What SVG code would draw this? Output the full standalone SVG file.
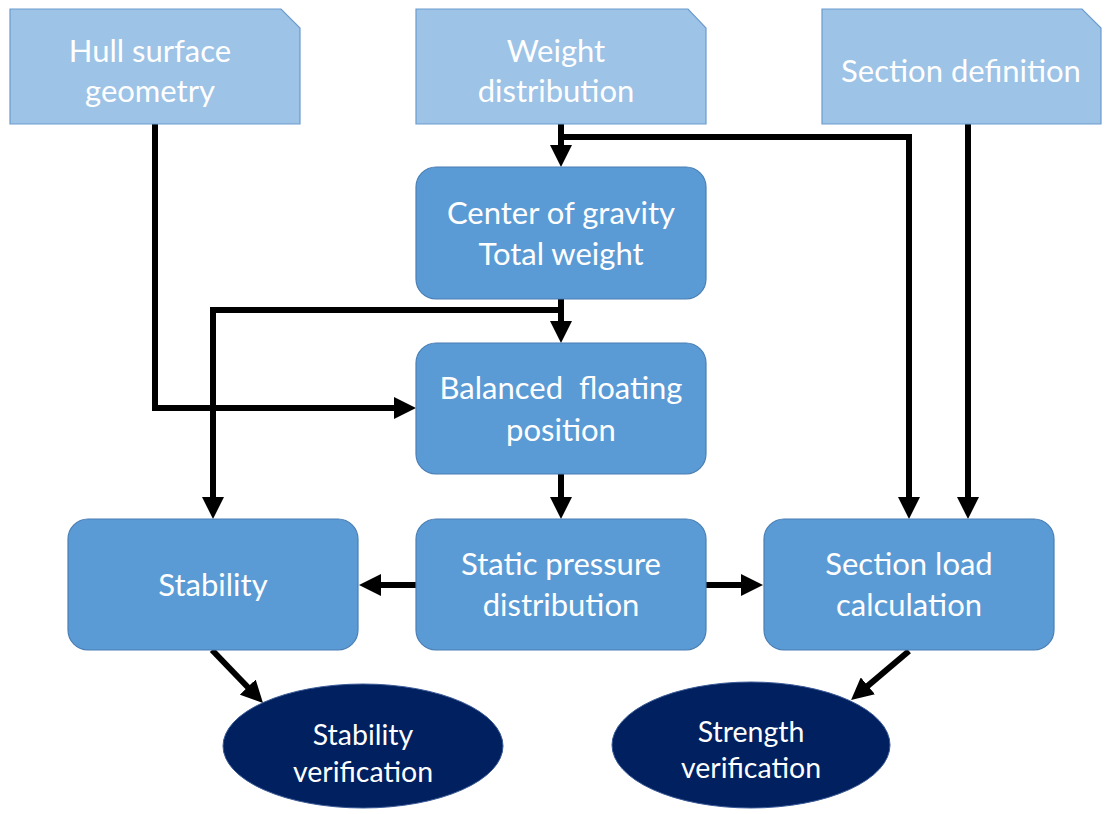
<svg xmlns="http://www.w3.org/2000/svg" width="1105" height="814" viewBox="0 0 1105 814">
<style>
.input{fill:#9DC3E6;stroke:#6C9BCD;stroke-width:1.2}
.proc{fill:#5B9BD5;stroke:#4A7FB5;stroke-width:1.2}
.result{fill:#002060;stroke:#3A5A96;stroke-width:1}
.t{font-family:Lato,"Open Sans","Liberation Sans",sans-serif;font-size:31px;fill:#FFFFFF;text-anchor:middle}
.s{font-family:Lato,"Open Sans","Liberation Sans",sans-serif;font-size:28.5px;fill:#FFFFFF;text-anchor:middle}
.c{fill:none;stroke:#000000;stroke-width:6;stroke-linejoin:miter}
</style>
<defs>
<marker id="ah" markerUnits="userSpaceOnUse" markerWidth="22" markerHeight="22" refX="4" refY="11" orient="auto">
<path d="M0,0 L22,11 L0,22 Z" fill="#000000"/>
</marker>
</defs>
<rect width="1105" height="814" fill="#FFFFFF"/>
<g id="connectors">
<path class="c" d="M561,124 V149" marker-end="url(#ah)"/>
<path class="c" d="M558,137 H909 V501" marker-end="url(#ah)"/>
<path class="c" d="M968,124 V501" marker-end="url(#ah)"/>
<path class="c" d="M155,124 V408 H398" marker-end="url(#ah)"/>
<path class="c" d="M561,299 V325" marker-end="url(#ah)"/>
<path class="c" d="M564,310 H213 V501" marker-end="url(#ah)"/>
<path class="c" d="M561,474 V501" marker-end="url(#ah)"/>
<path class="c" d="M416,585 H377" marker-end="url(#ah)"/>
<path class="c" d="M706,585 H745" marker-end="url(#ah)"/>
<path class="c" d="M212,650 L250.5,690" marker-end="url(#ah)"/>
<path class="c" d="M909,651 L864.8,688.4" marker-end="url(#ah)"/>
</g>
<g id="hull">
<path class="input" d="M10,9 H281 L300,28 V124 H10 Z"/>
<text class="t" x="150" y="62">Hull surface</text>
<text class="t" x="150" y="102">geometry</text>
</g>
<g id="weight">
<path class="input" d="M416,9 H688 L706,28 V124 H416 Z"/>
<text class="t" x="556" y="62">Weight</text>
<text class="t" x="556" y="102">distribution</text>
</g>
<g id="section-def">
<path class="input" d="M822,9 H1082 L1101,28 V124 H822 Z"/>
<text class="t" x="961" y="82">Section definition</text>
</g>
<g id="cog">
<rect class="proc" x="416" y="167" width="290" height="132" rx="20"/>
<text class="t" x="561" y="224">Center of gravity</text>
<text class="t" x="561" y="265">Total weight</text>
</g>
<g id="balanced">
<rect class="proc" x="416" y="343" width="290" height="131" rx="20"/>
<text class="t" x="561" y="399" xml:space="preserve">Balanced  floating</text>
<text class="t" x="561" y="441">position</text>
</g>
<g id="static">
<rect class="proc" x="416" y="519" width="290" height="131" rx="20"/>
<text class="t" x="561" y="575">Static pressure</text>
<text class="t" x="561" y="616">distribution</text>
</g>
<g id="stability">
<rect class="proc" x="68" y="519" width="290" height="131" rx="20"/>
<text class="t" x="213" y="596">Stability</text>
</g>
<g id="section-load">
<rect class="proc" x="764" y="519" width="290" height="131" rx="20"/>
<text class="t" x="909" y="575">Section load</text>
<text class="t" x="909" y="616">calculation</text>
</g>
<g id="stability-verification">
<ellipse class="result" cx="363" cy="746" rx="140" ry="62"/>
<text class="s" x="363" y="745">Stability</text>
<text class="s" x="363" y="782">verification</text>
</g>
<g id="strength-verification">
<ellipse class="result" cx="751" cy="745" rx="139" ry="63"/>
<text class="s" x="751" y="742">Strength</text>
<text class="s" x="751" y="778">verification</text>
</g>
</svg>
